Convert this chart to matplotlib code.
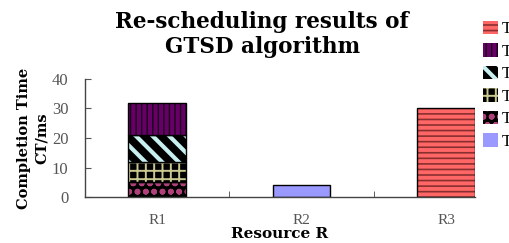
import matplotlib
matplotlib.use("Agg")
import matplotlib.pyplot as plt
from matplotlib.patches import Patch

# data
resources = ["R1", "R2", "R3"]
# stacked segments on R1 (bottom -> top)
r1_segments = [5, 7, 9, 11]
r2_value = 4
r3_value = 30
legend_labels = ["T6", "T5", "T4", "T3", "T2", "T1"]

fig = plt.figure(figsize=(5.09, 2.43), dpi=100)
ax = fig.add_axes([0.167, 0.189, 0.766, 0.486])

x = [1, 2, 3]
w = 0.4

# (face, hatch colour, hatch, hatch linewidth) per segment
r1_styles = [
    ("black", "#b0407a", "oo", 1.8),
    ("black", "#c8c890", "++", 1.4),
    ("black", "#c8f0f0", "\\\\", 3.0),
    ("#660066", "#1a001a", "|||", 1.0),
]
r2_style = ("#9999ff", "#9999ff", "", 1.0)
r3_style = ("#ff6666", "#8a2f2f", "---", 1.2)


def hatched_bar(xpos, height, bottom, style):
    face, hcol, hatch, hlw = style
    bars = ax.bar(xpos, height, w, bottom=bottom, color=face, edgecolor=hcol,
                  hatch=hatch, linewidth=0)
    for p in bars:
        if hasattr(p, "set_hatch_linewidth"):
            p.set_hatch_linewidth(hlw)
    ax.bar(xpos, height, w, bottom=bottom, fill=False, edgecolor="black",
           linewidth=1.0)


bottom = 0
for seg, st in zip(r1_segments, r1_styles):
    hatched_bar(x[0], seg, bottom, st)
    bottom += seg
hatched_bar(x[1], r2_value, 0, r2_style)
hatched_bar(x[2], r3_value, 0, r3_style)

ax.set_xlim(0.5, 3.2)
ax.set_ylim(0, 40)
ax.set_yticks([0, 10, 20, 30, 40])
ax.set_xticks(x)
ax.set_xticklabels(resources)
ax.set_xticks([1.5, 2.5], minor=True)
ax.tick_params(axis="x", which="major", length=0, pad=12, labelsize=11,
               colors="#555555")
ax.tick_params(axis="x", which="minor", direction="in", length=4,
               color="#444444")
ax.tick_params(axis="y", direction="in", length=4, pad=12, labelsize=12,
               colors="#555555")
for lab in ax.get_xticklabels() + ax.get_yticklabels():
    lab.set_family("Liberation Serif")

for s in ["top", "right"]:
    ax.spines[s].set_visible(False)
for s in ["left", "bottom"]:
    ax.spines[s].set_color("#444444")
    ax.spines[s].set_linewidth(1.0)

ax.set_ylabel("Completion Time\nCT/ms", fontsize=10.5, fontweight="bold",
              family="DejaVu Serif", labelpad=2, linespacing=1.4)
ax.set_xlabel("Resource R", fontsize=11, fontweight="bold",
              family="DejaVu Serif", labelpad=0)

fig.text(0.515, 0.955, "Re-scheduling results of\nGTSD algorithm",
         ha="center", va="top", fontsize=15.5, fontweight="bold",
         family="DejaVu Serif", linespacing=1.2)

legend_styles = [r3_style, r1_styles[3], r1_styles[2], r1_styles[1],
                 r1_styles[0], r2_style]
handles = []
for f, h, ht, hlw in legend_styles:
    p = Patch(facecolor=f, edgecolor=h, hatch=ht, linewidth=0)
    handles.append(p)
leg = fig.legend(handles, legend_labels, loc="upper left",
                 bbox_to_anchor=(0.949, 0.915), frameon=False,
                 handlelength=0.9, handleheight=0.9, handletextpad=0.25,
                 labelspacing=0.35, borderaxespad=0, borderpad=0,
                 prop={"family": "Liberation Serif", "size": 12})
for p, st in zip(leg.get_patches(), legend_styles):
    if hasattr(p, "set_hatch_linewidth"):
        p.set_hatch_linewidth(st[3])

fig.savefig("out.png", dpi=100)
